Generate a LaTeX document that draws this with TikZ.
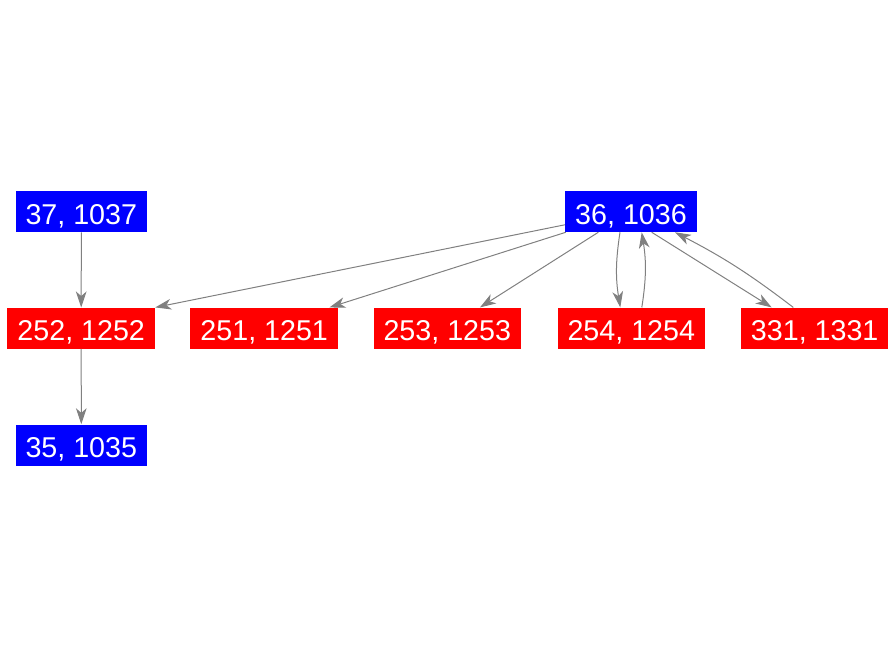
\documentclass[tikz,border=0pt]{standalone}
\usepackage{fontspec}
\setmainfont{Liberation Sans}
\usetikzlibrary{arrows.meta,calc}
\definecolor{edgegray}{RGB}{128,128,128}
\definecolor{nodeblue}{RGB}{0,0,255}
\definecolor{nodered}{RGB}{255,0,0}
\tikzset{
  vbox/.style={inner xsep=7.5pt, inner ysep=0pt, minimum height=30.75pt,
    text=white, font=\fontsize{21.5}{24}\selectfont, text height=19.8pt, text depth=0.9pt},
  bluebox/.style={vbox, fill=nodeblue},
  redbox/.style={vbox, fill=nodered},
  edge/.style={draw=edgegray, line width=0.75pt,
    -{Stealth[length=12pt, width=8pt, inset=3.5pt]}}
}
\begin{document}
\begin{tikzpicture}[x=0.75pt, y=-0.75pt]
\useasboundingbox (0,0) rectangle (896,656);
\node[bluebox] (n37) at (81.3,211.7) {37, 1037};
\node[bluebox] (n36) at (631,211.5) {36, 1036};
\node[redbox] (n252) at (81.2,328.2) {252, 1252};
\node[redbox] (n251) at (264.2,328.2) {251, 1251};
\node[redbox] (n253) at (447.3,328.2) {253, 1253};
\node[redbox] (n254) at (631.3,328.2) {254, 1254};
\node[redbox] (n331) at (814.7,328.2) {331, 1331};
\node[bluebox] (n35) at (81.3,445) {35, 1035};

\draw[edge] (n37) -- (n252);
\draw[edge] (n252) -- (n35);
\draw[edge] (n36) -- (n252.north east);
\draw[edge] (n36) -- (n251);
\draw[edge] (n36) -- (n253);
\draw[edge] ($(n36.south)+(-11,0)$) to[bend right=9] ($(n254.north)+(-11,0)$);
\draw[edge] ($(n254.north)+(10.5,0)$) to[bend right=9] ($(n36.south)+(10.7,0)$);
\draw[edge] ($(n36.south)+(20.7,0)$) -- ($(n331.north)+(-43,0)$);
\draw[edge] ($(n331.north)+(-21.4,0)$) to[bend right=5] ($(n36.south)+(44,0)$);
\end{tikzpicture}
\end{document}
